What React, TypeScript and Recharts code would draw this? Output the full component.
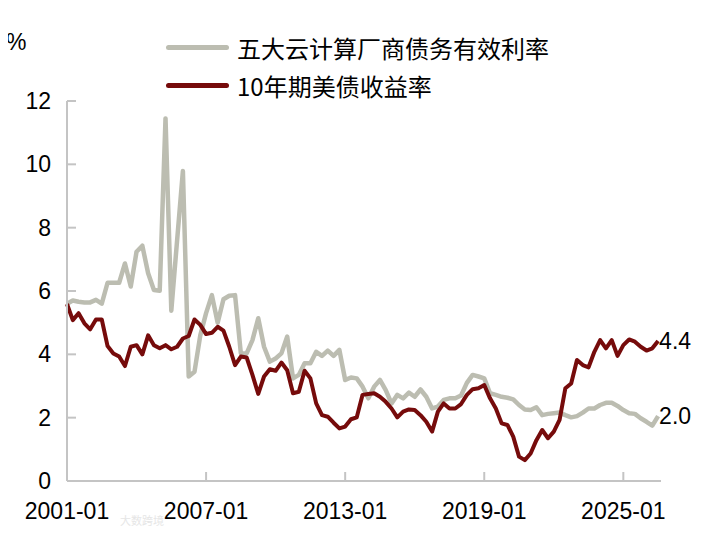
import React from 'react';
import { LineChart, Line, XAxis, YAxis, LabelList } from 'recharts';

// Quarterly points, first one is 2001-01.
const xTicks = [0, 24, 48, 72, 96];
const xTickLabels = ['2001-01', '2007-01', '2013-01', '2019-01', '2025-01'];
const yTicks = [0, 2, 4, 6, 8, 10, 12];

const cloudRate = [
  5.6, 5.7, 5.66, 5.64, 5.64, 5.72, 5.6, 6.26, 6.26, 6.26,
  6.87, 6.14, 7.24, 7.43, 6.56, 6.03, 6.01, 11.45, 5.38, 7.6,
  9.79, 3.3, 3.45, 4.6, 5.3, 5.87, 5.0, 5.74, 5.85, 5.87,
  4.03, 4.03, 4.45, 5.14, 4.24, 3.77, 3.87, 4.03, 4.56, 3.24,
  3.35, 3.72, 3.72, 4.08, 3.95, 4.12, 3.95, 4.14, 3.19, 3.27,
  3.24, 2.98, 2.61, 2.98, 3.19, 2.87, 2.45, 2.72, 2.61, 2.79,
  2.66, 2.89, 2.66, 2.29, 2.35, 2.56, 2.61, 2.61, 2.7, 3.1,
  3.35, 3.3, 3.24, 2.77, 2.72, 2.66, 2.63, 2.58, 2.4, 2.26,
  2.24, 2.33, 2.08, 2.12, 2.14, 2.16, 2.08, 2.01, 2.05, 2.16,
  2.29, 2.29, 2.4, 2.47, 2.47, 2.37, 2.24, 2.14, 2.12, 1.98,
  1.87, 1.75, 2.05,
];

const ust10y = [
  5.59, 5.08, 5.3, 4.98, 4.79, 5.1, 5.1, 4.26, 4.03, 3.93,
  3.63, 4.24, 4.29, 4.0, 4.6, 4.29, 4.19, 4.29, 4.16, 4.24,
  4.5, 4.58, 5.1, 4.93, 4.64, 4.68, 4.87, 4.75, 4.24, 3.66,
  3.93, 3.9, 3.35, 2.75, 3.3, 3.53, 3.48, 3.74, 3.5, 2.77,
  2.82, 3.48, 3.24, 2.45, 2.08, 2.03, 1.84, 1.66, 1.72, 1.95,
  2.01, 2.72, 2.75, 2.77, 2.66, 2.5, 2.29, 2.01, 2.19, 2.26,
  2.24, 2.08, 1.87, 1.56, 2.19, 2.45, 2.29, 2.29, 2.43, 2.72,
  2.9, 2.93, 3.03, 2.61, 2.29, 1.82, 1.77, 1.4, 0.77, 0.66,
  0.87, 1.29, 1.61, 1.35, 1.56, 1.93, 2.93, 3.08, 3.82, 3.66,
  3.59, 4.08, 4.45, 4.19, 4.45, 3.95, 4.29, 4.47, 4.4, 4.24,
  4.12, 4.19, 4.42,
];

const GRAY = '#BCBDB1';
const RED = '#760B0B';
const AXIS = '#C4C4C4';
const FONT = '"Liberation Sans", Arial, sans-serif';
const CJK = '"Noto Sans CJK SC", "Liberation Sans", sans-serif';

const rows = cloudRate.map((v, i) => ({ i, cloud: v, ust: ust10y[i] }));
const last = rows.length - 1;

const endLabel = (fmt: (v: number) => string) => (props: any) => {
  const { x, y, index, value } = props;
  if (index !== last) return null;
  return (
    <text x={x + 1} y={y} dominantBaseline="central" fontSize={23} fontFamily={FONT} fill="#000">
      {fmt(value)}
    </text>
  );
};

const legendItems = [
  { name: '五大云计算厂商债务有效利率', color: GRAY, top: 47 },
  { name: '10年期美债收益率', color: RED, top: 85 },
];

export default function App() {
  return (
    <div style={{ position: 'relative', width: 690, height: 524 }}>
      <div style={{ position: 'absolute', left: -2, top: 22, fontSize: 23, fontFamily: FONT, lineHeight: '24px' }}>%</div>
      {legendItems.map((it) => (
        <div key={it.name} style={{ position: 'absolute', left: 158, top: it.top - 8 - 16, height: 32, display: 'flex', alignItems: 'center' }}>
          <div style={{ width: 63, height: 5, borderRadius: 3, background: it.color }} />
          <span style={{ marginLeft: 8, fontSize: 24, fontFamily: CJK, color: '#000', whiteSpace: 'nowrap' }}>{it.name}</span>
        </div>
      ))}
      <LineChart width={690} height={524} data={rows} margin={{ top: 93, right: 37, bottom: 0, left: 0 }}>
        <XAxis
          dataKey="i"
          type="number"
          domain={[0, 102.5]}
          ticks={xTicks}
          tickFormatter={(v: number) => xTickLabels[xTicks.indexOf(v)] ?? ''}
          height={51}
          tickSize={-9}
          tickMargin={31}
          axisLine={{ stroke: AXIS, strokeWidth: 2 }}
          tickLine={{ stroke: AXIS, strokeWidth: 2 }}
          tick={{ fill: '#000', fontSize: 23, fontFamily: FONT }}
          interval={0}
        />
        <YAxis
          domain={[0, 12]}
          ticks={yTicks}
          width={59}
          tickSize={-9}
          tickMargin={25}
          axisLine={{ stroke: AXIS, strokeWidth: 2 }}
          tickLine={{ stroke: AXIS, strokeWidth: 2 }}
          tick={{ fill: '#000', fontSize: 23, fontFamily: FONT }}
          interval={0}
        />
        <Line
          dataKey="cloud"
          stroke={GRAY}
          strokeWidth={4.5}
          dot={false}
          strokeLinejoin="round"
          isAnimationActive={false}
        >
          <LabelList dataKey="cloud" content={endLabel((v) => v.toFixed(1))} />
        </Line>
        <Line
          dataKey="ust"
          stroke={RED}
          strokeWidth={4}
          dot={false}
          strokeLinejoin="round"
          isAnimationActive={false}
        >
          <LabelList dataKey="ust" content={endLabel((v) => v.toFixed(1))} />
        </Line>
      </LineChart>
      <div style={{ position: 'absolute', left: 112, top: 506, fontSize: 11, lineHeight: '12px', fontFamily: CJK, color: '#e6e6e6' }}>大数跨境</div>
    </div>
  );
}
